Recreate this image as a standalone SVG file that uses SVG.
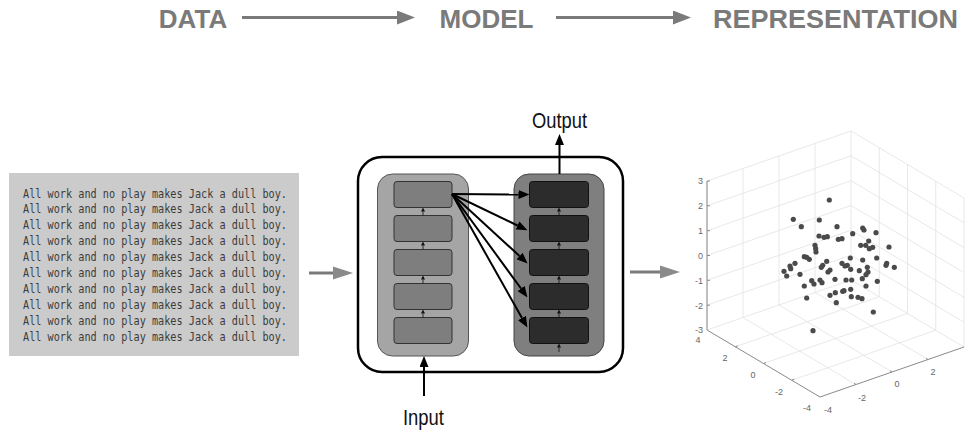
<svg xmlns="http://www.w3.org/2000/svg" width="966" height="434" viewBox="0 0 966 434">
<style>
.hdr{font-family:"Liberation Sans",Arial,sans-serif;font-weight:bold;font-size:26px;fill:#7a7a7a;text-anchor:middle}
.mono{font-family:"DejaVu Sans Mono","Liberation Mono",monospace;font-size:11.5px;fill:#3c3c3c}
.lbl{font-family:"Liberation Sans",Arial,sans-serif;font-size:22px;fill:#111}
.garr{stroke:#7a7a7a;stroke-width:3;fill:none}
.barr{stroke:#000;stroke-width:2;fill:none}
.sarr{stroke:#111;stroke-width:0.8;fill:none}
.grid{stroke:#e2e2e2;stroke-width:0.8;fill:none}
.axis{stroke:#8a8a8a;stroke-width:1;fill:none}
.tick{font-family:"Liberation Sans",Arial,sans-serif;font-size:9px;fill:#666}
.dot{fill:#4a4a4a}
.lcell{fill:#7e7e7e;stroke:#333;stroke-width:1}
.rcell{fill:#2c2c2c;stroke:#111;stroke-width:1}
</style>
<defs>
<marker id="hg" markerUnits="userSpaceOnUse" markerWidth="18" markerHeight="14" refX="0" refY="7" orient="auto"><path d="M0,0 L18,7 L0,14 z" fill="#7a7a7a"/></marker>
<marker id="hg2" markerUnits="userSpaceOnUse" markerWidth="20" markerHeight="14" refX="0" refY="7" orient="auto"><path d="M0,0.5 L20,7 L0,13.5 z" fill="#8a8a8a"/></marker>
<marker id="hb" markerUnits="userSpaceOnUse" markerWidth="11" markerHeight="9" refX="0" refY="4.5" orient="auto"><path d="M0,0 L11,4.5 L0,9 z" fill="#000"/></marker>
<marker id="hs" markerUnits="userSpaceOnUse" markerWidth="4" markerHeight="4" refX="0" refY="2" orient="auto"><path d="M0,0 L4,2 L0,4 z" fill="#111"/></marker>
</defs>

<g id="header">
<text class="hdr" x="193" y="28">DATA</text>
<text class="hdr" x="486.5" y="28">MODEL</text>
<text class="hdr" x="835.5" y="28" textLength="245" lengthAdjust="spacingAndGlyphs">REPRESENTATION</text>
</g>

<g id="data">
<rect x="9" y="173" width="290" height="183" fill="#cbcbcb"/>
<text class="mono" x="23" y="197.5" textLength="264" lengthAdjust="spacingAndGlyphs">All work and no play makes Jack a dull boy.</text>
<text class="mono" x="23" y="213.4" textLength="264" lengthAdjust="spacingAndGlyphs">All work and no play makes Jack a dull boy.</text>
<text class="mono" x="23" y="229.3" textLength="264" lengthAdjust="spacingAndGlyphs">All work and no play makes Jack a dull boy.</text>
<text class="mono" x="23" y="245.2" textLength="264" lengthAdjust="spacingAndGlyphs">All work and no play makes Jack a dull boy.</text>
<text class="mono" x="23" y="261.1" textLength="264" lengthAdjust="spacingAndGlyphs">All work and no play makes Jack a dull boy.</text>
<text class="mono" x="23" y="277.0" textLength="264" lengthAdjust="spacingAndGlyphs">All work and no play makes Jack a dull boy.</text>
<text class="mono" x="23" y="292.9" textLength="264" lengthAdjust="spacingAndGlyphs">All work and no play makes Jack a dull boy.</text>
<text class="mono" x="23" y="308.8" textLength="264" lengthAdjust="spacingAndGlyphs">All work and no play makes Jack a dull boy.</text>
<text class="mono" x="23" y="324.7" textLength="264" lengthAdjust="spacingAndGlyphs">All work and no play makes Jack a dull boy.</text>
<text class="mono" x="23" y="340.6" textLength="264" lengthAdjust="spacingAndGlyphs">All work and no play makes Jack a dull boy.</text>
</g>

<g id="model">
<rect x="358" y="157" width="265" height="215" rx="24" fill="#fff" stroke="#000" stroke-width="2.5"/>
<g id="encoder">
<rect x="377.5" y="174" width="91" height="182" rx="15" fill="#a5a5a5" stroke="#555" stroke-width="1"/>
<rect class="lcell" x="394" y="181.5" width="58" height="26" rx="3"/>
<rect class="lcell" x="394" y="215.5" width="58" height="26" rx="3"/>
<rect class="lcell" x="394" y="249.5" width="58" height="26" rx="3"/>
<rect class="lcell" x="394" y="283.5" width="58" height="26" rx="3"/>
<rect class="lcell" x="394" y="317.5" width="58" height="26" rx="3"/>
</g>
<g id="decoder">
<rect x="514" y="174" width="90" height="182" rx="15" fill="#7f7f7f" stroke="#444" stroke-width="1"/>
<rect class="rcell" x="529.5" y="181.5" width="59" height="26" rx="3"/>
<rect class="rcell" x="529.5" y="215.5" width="59" height="26" rx="3"/>
<rect class="rcell" x="529.5" y="249.5" width="59" height="26" rx="3"/>
<rect class="rcell" x="529.5" y="283.5" width="59" height="26" rx="3"/>
<rect class="rcell" x="529.5" y="317.5" width="59" height="26" rx="3"/>
</g>
<text class="lbl" x="532" y="128" textLength="55" lengthAdjust="spacingAndGlyphs">Output</text>
<text class="lbl" x="403" y="425" textLength="41" lengthAdjust="spacingAndGlyphs">Input</text>
</g>

<g id="connectors">
<line class="garr" x1="242" y1="17.5" x2="397" y2="17.5" marker-end="url(#hg)"/>
<line class="garr" x1="556" y1="17.5" x2="673" y2="17.5" marker-end="url(#hg)"/>
<line class="garr" x1="309" y1="273" x2="333" y2="273" marker-end="url(#hg2)"/>
<line class="garr" x1="630" y1="272" x2="660" y2="272" marker-end="url(#hg2)"/>
<line class="barr" x1="452" y1="194" x2="518.5" y2="194.5" marker-end="url(#hb)"/>
<line class="barr" x1="452" y1="194" x2="517.5" y2="225.5" marker-end="url(#hb)"/>
<line class="barr" x1="452" y1="194" x2="519.5" y2="256" marker-end="url(#hb)"/>
<line class="barr" x1="452" y1="194" x2="521" y2="288.5" marker-end="url(#hb)"/>
<line class="barr" x1="452" y1="194" x2="522" y2="318" marker-end="url(#hb)"/>
<line class="barr" x1="559.5" y1="174" x2="559.5" y2="145" marker-end="url(#hb)"/>
<line class="barr" x1="424" y1="396" x2="424" y2="367" marker-end="url(#hb)"/>
<line class="sarr" x1="423" y1="215.5" x2="423" y2="211.5" marker-end="url(#hs)"/>
<line class="sarr" x1="423" y1="249.5" x2="423" y2="245.5" marker-end="url(#hs)"/>
<line class="sarr" x1="423" y1="283.5" x2="423" y2="279.5" marker-end="url(#hs)"/>
<line class="sarr" x1="423" y1="317.5" x2="423" y2="313.5" marker-end="url(#hs)"/>
<line class="sarr" x1="559" y1="215.5" x2="559" y2="211.5" marker-end="url(#hs)"/>
<line class="sarr" x1="559" y1="249.5" x2="559" y2="245.5" marker-end="url(#hs)"/>
<line class="sarr" x1="559" y1="283.5" x2="559" y2="279.5" marker-end="url(#hs)"/>
<line class="sarr" x1="559" y1="317.5" x2="559" y2="313.5" marker-end="url(#hs)"/>
<line class="sarr" x1="559" y1="352" x2="559" y2="347.5" marker-end="url(#hs)"/>
</g>

<g id="representation">
<g id="grid">
<path class="grid" d="M851,280 V131 M815,292.5 V143.5 M779,305 V156 M743,317.5 V168.5 M707,330 V181"/>
<path class="grid" d="M707,305.2 L851,255.2 M707,280.3 L851,230.3 M707,255.5 L851,205.5 M707,230.7 L851,180.7 M707,205.8 L851,155.8 M707,181 L851,131"/>
<path class="grid" d="M879.25,296.75 V147.75 M907.5,313.5 V164.5 M935.75,330.25 V181.25 M964,347 V198"/>
<path class="grid" d="M851,280 L964,347 M851,255.2 L964,322.2 M851,230.3 L964,297.3 M851,205.5 L964,272.5 M851,180.7 L964,247.7 M851,155.8 L964,222.8 M851,131 L964,198"/>
<path class="grid" d="M815,292.5 L928,359.5 M779,305 L892,372 M743,317.5 L856,384.5 M879.25,296.75 L735.25,346.75 M907.5,313.5 L763.5,363.5 M935.75,330.25 L791.75,380.25 M851,280 L707,330"/>
</g>
<g id="axes">
<path class="axis" d="M707,181 V330 L820,397 L964,347"/>
<path class="axis" d="M707,181 h3 M707,205.8 h3 M707,230.7 h3 M707,255.5 h3 M707,280.3 h3 M707,305.2 h3"/>
<path class="axis" d="M735.25,346.75 l2.5,-1 M763.5,363.5 l2.5,-1 M791.75,380.25 l2.5,-1 M856,384.5 l-2,-1.2 M892,372 l-2,-1.2 M928,359.5 l-2,-1.2"/>
<g class="tick" text-anchor="end">
<text x="703" y="184">3</text>
<text x="703" y="209">2</text>
<text x="703" y="234">1</text>
<text x="703" y="258.5">0</text>
<text x="703" y="283.5">-1</text>
<text x="703" y="308.5">-2</text>
<text x="703" y="333">-3</text>
</g>
<g class="tick" text-anchor="middle">
<text x="698" y="343">4</text>
<text x="725" y="361">2</text>
<text x="753" y="378">0</text>
<text x="779" y="395">-2</text>
<text x="807" y="411">-4</text>
<text x="828" y="413">-4</text>
<text x="862" y="401">-2</text>
<text x="897" y="387">0</text>
<text x="933" y="375">2</text>
</g>
</g>
<g id="points">
<circle class="dot" cx="829.3" cy="200" r="2.6"/>
<circle class="dot" cx="793.3" cy="219.3" r="2.6"/>
<circle class="dot" cx="801.3" cy="226.7" r="2.6"/>
<circle class="dot" cx="819.3" cy="220" r="2.6"/>
<circle class="dot" cx="837" cy="226.7" r="2.6"/>
<circle class="dot" cx="819" cy="236" r="2.6"/>
<circle class="dot" cx="824" cy="237.3" r="2.6"/>
<circle class="dot" cx="827.3" cy="236.7" r="2.6"/>
<circle class="dot" cx="838.3" cy="239.3" r="2.6"/>
<circle class="dot" cx="842" cy="238.7" r="2.6"/>
<circle class="dot" cx="852.7" cy="233.7" r="2.6"/>
<circle class="dot" cx="862.7" cy="228" r="2.6"/>
<circle class="dot" cx="864" cy="230" r="2.6"/>
<circle class="dot" cx="876" cy="232.7" r="2.6"/>
<circle class="dot" cx="868.7" cy="241" r="2.6"/>
<circle class="dot" cx="860.7" cy="245.3" r="2.6"/>
<circle class="dot" cx="865.7" cy="245.3" r="2.6"/>
<circle class="dot" cx="869.3" cy="248.7" r="2.6"/>
<circle class="dot" cx="872.7" cy="247.3" r="2.6"/>
<circle class="dot" cx="889" cy="247" r="2.6"/>
<circle class="dot" cx="815" cy="245.3" r="2.6"/>
<circle class="dot" cx="815.7" cy="248.7" r="2.6"/>
<circle class="dot" cx="816" cy="252" r="2.6"/>
<circle class="dot" cx="804.3" cy="256.7" r="2.6"/>
<circle class="dot" cx="806.7" cy="257.3" r="2.6"/>
<circle class="dot" cx="809.3" cy="259.3" r="2.6"/>
<circle class="dot" cx="876.7" cy="258" r="2.6"/>
<circle class="dot" cx="862.7" cy="260" r="2.6"/>
<circle class="dot" cx="850.3" cy="258" r="2.6"/>
<circle class="dot" cx="826.7" cy="261.3" r="2.6"/>
<circle class="dot" cx="886.7" cy="263.3" r="2.6"/>
<circle class="dot" cx="886" cy="265.3" r="2.6"/>
<circle class="dot" cx="894.3" cy="267.3" r="2.6"/>
<circle class="dot" cx="795" cy="263.3" r="2.6"/>
<circle class="dot" cx="790" cy="266" r="2.6"/>
<circle class="dot" cx="790.7" cy="268.7" r="2.6"/>
<circle class="dot" cx="784" cy="271.3" r="2.6"/>
<circle class="dot" cx="786.7" cy="276" r="2.6"/>
<circle class="dot" cx="800" cy="274.3" r="2.6"/>
<circle class="dot" cx="822.7" cy="265.3" r="2.6"/>
<circle class="dot" cx="821.3" cy="267.3" r="2.6"/>
<circle class="dot" cx="830" cy="270" r="2.6"/>
<circle class="dot" cx="828" cy="272" r="2.6"/>
<circle class="dot" cx="842" cy="263.3" r="2.6"/>
<circle class="dot" cx="845" cy="266" r="2.6"/>
<circle class="dot" cx="847.3" cy="265.3" r="2.6"/>
<circle class="dot" cx="850.7" cy="269.3" r="2.6"/>
<circle class="dot" cx="859.3" cy="270.7" r="2.6"/>
<circle class="dot" cx="867.3" cy="267.3" r="2.6"/>
<circle class="dot" cx="868" cy="272" r="2.6"/>
<circle class="dot" cx="866" cy="274.7" r="2.6"/>
<circle class="dot" cx="862.3" cy="278.7" r="2.6"/>
<circle class="dot" cx="835" cy="279.3" r="2.6"/>
<circle class="dot" cx="846" cy="280" r="2.6"/>
<circle class="dot" cx="851.7" cy="280" r="2.6"/>
<circle class="dot" cx="877.3" cy="281.3" r="2.6"/>
<circle class="dot" cx="804.3" cy="286" r="2.6"/>
<circle class="dot" cx="811.7" cy="280.7" r="2.6"/>
<circle class="dot" cx="814" cy="284" r="2.6"/>
<circle class="dot" cx="820" cy="280" r="2.6"/>
<circle class="dot" cx="822" cy="282.7" r="2.6"/>
<circle class="dot" cx="866" cy="286" r="2.6"/>
<circle class="dot" cx="850.7" cy="289.3" r="2.6"/>
<circle class="dot" cx="844" cy="290.7" r="2.6"/>
<circle class="dot" cx="835.3" cy="292.7" r="2.6"/>
<circle class="dot" cx="842.7" cy="291.3" r="2.6"/>
<circle class="dot" cx="830" cy="295.3" r="2.6"/>
<circle class="dot" cx="851.3" cy="296.7" r="2.6"/>
<circle class="dot" cx="858" cy="297.3" r="2.6"/>
<circle class="dot" cx="862" cy="298.7" r="2.6"/>
<circle class="dot" cx="806.7" cy="298" r="2.6"/>
<circle class="dot" cx="836.3" cy="302.7" r="2.6"/>
<circle class="dot" cx="873.3" cy="312" r="2.6"/>
<circle class="dot" cx="813" cy="330.7" r="2.6"/>
</g>
</g>
</svg>
